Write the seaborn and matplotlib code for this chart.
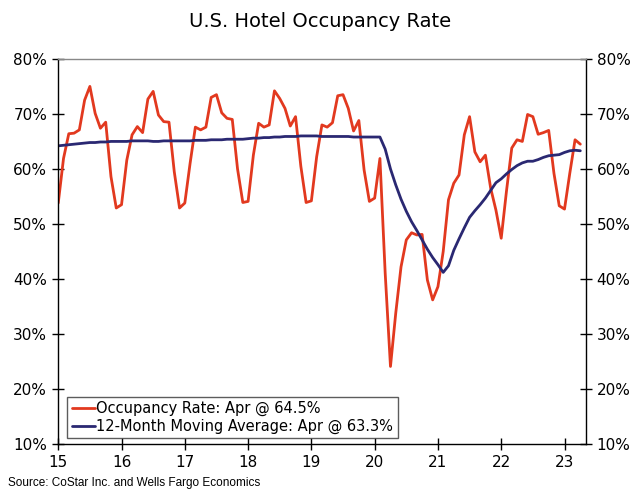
import numpy as np
import pandas as pd
import seaborn as sns
import matplotlib.pyplot as plt
from matplotlib.ticker import FuncFormatter

# monthly data, Jan 2015 - Apr 2023
occupancy = [
    53.8, 61.9, 66.4, 66.5, 67.1, 72.5, 75.0, 70.1, 67.4, 68.5, 58.6, 52.9,  # 2015
    53.5, 61.6, 66.2, 67.7, 66.6, 72.7, 74.1, 69.8, 68.6, 68.5, 59.5, 52.9,  # 2016
    53.8, 61.0, 67.6, 67.1, 67.6, 73.0, 73.5, 70.2, 69.2, 69.0, 60.0, 53.9,  # 2017
    54.1, 62.5, 68.3, 67.6, 68.0, 74.2, 72.8, 71.0, 67.8, 69.5, 60.5, 53.9,  # 2018
    54.2, 62.2, 68.0, 67.6, 68.4, 73.3, 73.5, 71.0, 66.9, 68.8, 59.8, 54.1,  # 2019
    54.7, 61.9, 41.0, 24.1, 33.8, 42.2, 47.1, 48.4, 48.0, 48.1, 39.8, 36.2,  # 2020
    38.6, 45.0, 54.4, 57.4, 58.9, 66.2, 69.5, 63.1, 61.3, 62.5, 56.5, 52.5,  # 2021
    47.4, 56.0, 63.8, 65.3, 65.0, 69.9, 69.5, 66.3, 66.6, 67.0, 59.2, 53.3,  # 2022
    52.7, 59.2, 65.3, 64.5,                                                  # 2023
]
moving_avg = [
    64.2, 64.3, 64.4, 64.5, 64.6, 64.7, 64.8, 64.8, 64.9, 64.9, 65.0, 65.0,
    65.0, 65.0, 65.1, 65.1, 65.1, 65.1, 65.0, 65.0, 65.1, 65.1, 65.1, 65.1,
    65.1, 65.1, 65.2, 65.2, 65.2, 65.3, 65.3, 65.3, 65.4, 65.4, 65.4, 65.4,
    65.5, 65.6, 65.6, 65.7, 65.7, 65.8, 65.8, 65.9, 65.9, 65.9, 66.0, 66.0,
    66.0, 66.0, 65.9, 65.9, 65.9, 65.9, 65.9, 65.9, 65.8, 65.8, 65.8, 65.8,
    65.8, 65.8, 63.6, 60.0, 57.1, 54.5, 52.3, 50.4, 48.8, 47.1, 45.4, 43.9,
    42.6, 41.2, 42.4, 45.2, 47.3, 49.3, 51.2, 52.4, 53.5, 54.7, 56.1, 57.5,
    58.2, 59.1, 59.9, 60.6, 61.1, 61.4, 61.4, 61.7, 62.1, 62.4, 62.5, 62.6,
    63.0, 63.3, 63.4, 63.3,
]
year_ticks = [15, 16, 17, 18, 19, 20, 21, 22, 23]
pct_ticks = [10, 20, 30, 40, 50, 60, 70, 80]

red = '#E2391F'
navy = '#2A2872'

# x in "two-digit year" units, one step per month
t = 15 + np.arange(len(occupancy)) / 12
df = pd.DataFrame({'t': t, 'occ': occupancy, 'ma': moving_avg})

sns.set_style('ticks')
plt.rcParams['font.family'] = ['DejaVu Sans']
plt.rcParams['text.color'] = 'black'

fig = plt.figure(figsize=(6.4, 4.95), dpi=100)
ax = fig.add_axes([0.091, 0.103, 0.824, 0.778])

sns.lineplot(data=df, x='t', y='occ', color=red, lw=2.0, ax=ax,
             label='Occupancy Rate: Apr @ 64.5%')
sns.lineplot(data=df, x='t', y='ma', color=navy, lw=2.0, ax=ax,
             label='12-Month Moving Average: Apr @ 63.3%')

ax.set_xlim(15, 15 + 100 / 12)
ax.set_ylim(10, 80)
ax.set_xticks(year_ticks)
ax.set_yticks(pct_ticks)
ax.yaxis.set_major_formatter(FuncFormatter(lambda v, p: f'{v:.0f}%'))
ax.set_xlabel('')
ax.set_ylabel('')
ax.tick_params(axis='both', direction='inout', length=8, width=1,
               labelsize=11, colors='black', pad=4)
ax.tick_params(axis='y', labelright=True, right=True)
for side in ['left', 'right', 'bottom']:
    ax.spines[side].set_color('black')
ax.spines['top'].set_color('#888888')
for s in ax.spines.values():
    s.set_linewidth(1)

leg = ax.legend(loc='lower left', bbox_to_anchor=(0.017, 0.015), fontsize=10.5,
                frameon=True, fancybox=False, handlelength=1.6, handletextpad=0.1,
                borderpad=0.3, labelspacing=0.15, borderaxespad=0)
leg.get_frame().set_edgecolor('#333333')
leg.get_frame().set_linewidth(1)
for txt in leg.get_texts():
    txt.set_color('black')

fig.text(0.5, 0.957, 'U.S. Hotel Occupancy Rate', ha='center', va='center',
         fontsize=14, color='black')
fig.text(0.012, 0.025, 'Source: CoStar Inc. and Wells Fargo Economics', ha='left',
         va='center', fontsize=8.5, family=['Liberation Sans'], color='black')

fig.savefig('out.png', dpi=100)
